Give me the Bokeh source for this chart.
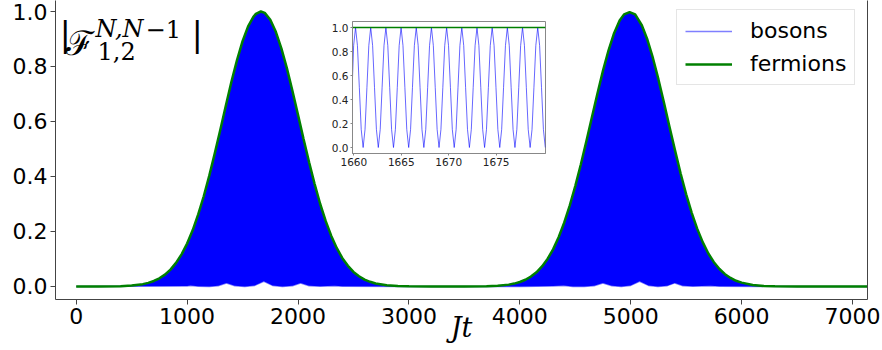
from bokeh.plotting import figure
from bokeh.models import Range1d, FixedTicker, PrintfTickFormatter, LinearAxis, Label, Legend
from bokeh.layouts import column
from bokeh.embed import file_html
from bokeh.resources import INLINE

# ---------------- data ----------------
# upper envelope (fermions) : time Jt and |F|
env_t = [0, 200, 400, 500, 600, 650, 700, 750, 800, 850, 900, 950, 1000, 1050, 1100, 1150,
         1200, 1250, 1300, 1350, 1400, 1450, 1500, 1550, 1600, 1620, 1665, 1700, 1750, 1800,
         1850, 1900, 1950, 2000, 2050, 2100, 2150, 2200, 2250, 2300, 2350, 2400, 2450, 2500,
         2550, 2600, 2650, 2700, 2800, 2900, 3000, 3200, 3500, 3700, 3800, 3900, 3950, 4000,
         4050, 4100, 4150, 4200, 4250, 4300, 4350, 4400, 4450, 4500, 4550, 4600, 4650, 4700,
         4750, 4800, 4850, 4900, 4940, 4990, 5040, 5100, 5150, 5200, 5250, 5300, 5350, 5400,
         5450, 5500, 5550, 5600, 5650, 5700, 5750, 5800, 5850, 5900, 5950, 6000, 6100, 6200,
         6300, 6500, 7000, 7300]
env_v = [0.0, 0.0, 0.0008, 0.0033, 0.0085, 0.0132, 0.020, 0.0297, 0.043, 0.0614, 0.086,
         0.1168, 0.156, 0.2042, 0.262, 0.3282, 0.403, 0.485, 0.571, 0.6591, 0.745, 0.8235,
         0.892, 0.946, 0.982, 0.9915, 1.0, 0.995, 0.970, 0.926, 0.866, 0.793, 0.711, 0.624,
         0.5365, 0.452, 0.3723, 0.300, 0.2375, 0.184, 0.1393, 0.103, 0.0751, 0.053, 0.0373,
         0.025, 0.017, 0.011, 0.0045, 0.0016, 0.0005, 0.0, 0.0, 0.0008, 0.0026, 0.0068,
         0.0106, 0.0163, 0.0244, 0.036, 0.0516, 0.073, 0.1002, 0.135, 0.179, 0.232, 0.2938,
         0.365, 0.4434, 0.528, 0.6153, 0.702, 0.785, 0.859, 0.921, 0.967, 0.9896, 0.998,
         0.9896, 0.950, 0.898, 0.831, 0.753, 0.668, 0.580, 0.494, 0.411, 0.335, 0.2678,
         0.2095, 0.1604, 0.120, 0.0884, 0.0635, 0.0448, 0.031, 0.0208, 0.014, 0.0057, 0.002,
         0.0007, 0.0, 0.0, 0.0]

# lower envelope of the boson oscillation (scalloped bottom of the blue fill)
low_t = [0, 1000, 1030, 1100, 1200, 1280, 1355, 1430, 1520, 1610, 1692, 1770, 1860, 1950,
         2023, 2100, 2200, 2330, 2400, 3000, 4000, 4300, 4395, 4480, 4580, 4670, 4749,
         4830, 4915, 5000, 5080, 5160, 5245, 5330, 5398, 5470, 5560, 5720, 5800, 6500, 7300]
low_v = [0.0, 0.002, 0.004, 0.001, 0.0, 0.003, 0.013, 0.003, 0.0, 0.004, 0.019, 0.004, 0.0,
         0.003, 0.013, 0.003, 0.001, 0.003, 0.001, 0.0, 0.0, 0.002, 0.004, 0.0, 0.0, 0.003,
         0.013, 0.003, 0.0, 0.004, 0.019, 0.004, 0.0, 0.003, 0.013, 0.003, 0.001, 0.003,
         0.001, 0.0, 0.0]

# inset: boson oscillation around Jt = 1660 ... 1680
inset_t = [1659.86, 1659.98,
           1660.18, 1660.38, 1660.58, 1660.78, 1660.98, 1661.18, 1661.38, 1661.58,
           1661.78, 1661.98, 1662.18, 1662.38, 1662.58, 1662.78, 1662.98, 1663.18,
           1663.38, 1663.58, 1663.78, 1663.98, 1664.18, 1664.38, 1664.58, 1664.78,
           1664.98, 1665.18, 1665.38, 1665.58, 1665.78, 1665.98, 1666.18, 1666.38,
           1666.58, 1666.78, 1666.98, 1667.18, 1667.38, 1667.58, 1667.78, 1667.98,
           1668.18, 1668.38, 1668.58, 1668.78, 1668.98, 1669.18, 1669.38, 1669.58,
           1669.78, 1669.98, 1670.18, 1670.38, 1670.58, 1670.78, 1670.98, 1671.18,
           1671.38, 1671.58, 1671.78, 1671.98, 1672.18, 1672.38, 1672.58, 1672.78,
           1672.98, 1673.18, 1673.38, 1673.58, 1673.78, 1673.98, 1674.18, 1674.38,
           1674.58, 1674.78, 1674.98, 1675.18, 1675.38, 1675.58, 1675.78, 1675.98,
           1676.18, 1676.38, 1676.58, 1676.78, 1676.98, 1677.18, 1677.38, 1677.58,
           1677.78, 1677.98, 1678.18, 1678.38, 1678.58, 1678.78, 1678.98, 1679.18,
           1679.38, 1679.58, 1679.78, 1679.98, 1680.18]
inset_v = [0.58, 0.85,
           1.0, 0.85, 0.5, 0.15, 0.0, 0.15, 0.5, 0.85,
           1.0, 0.85, 0.5, 0.15, 0.0, 0.15, 0.5, 0.85,
           1.0, 0.85, 0.5, 0.15, 0.0, 0.15, 0.5, 0.85,
           1.0, 0.85, 0.5, 0.15, 0.0, 0.15, 0.5, 0.85,
           1.0, 0.85, 0.5, 0.15, 0.0, 0.15, 0.5, 0.85,
           1.0, 0.85, 0.5, 0.15, 0.0, 0.15, 0.5, 0.85,
           1.0, 0.85, 0.5, 0.15, 0.0, 0.15, 0.5, 0.85,
           1.0, 0.85, 0.5, 0.15, 0.0, 0.15, 0.5, 0.85,
           1.0, 0.85, 0.5, 0.15, 0.0, 0.15, 0.5, 0.85,
           1.0, 0.85, 0.5, 0.15, 0.0, 0.15, 0.5, 0.85,
           1.0, 0.85, 0.5, 0.15, 0.0, 0.15, 0.5, 0.85,
           1.0, 0.85, 0.5, 0.15, 0.0, 0.15, 0.5, 0.85,
           1.0, 0.85, 0.5, 0.15, 0.0]
inset_ft = [1659.86, 1680.2]
inset_fv = [1.0, 1.0]

x_ticks = [0, 1000, 2000, 3000, 4000, 5000, 6000, 7000]
y_ticks = [0.0, 0.2, 0.4, 0.6, 0.8, 1.0]
inset_x_ticks = [1660, 1665, 1670, 1675]

FONT = "DejaVu Sans"
SPINE = "#444444"

# ---------------- main figure ----------------
p = figure(width=882, height=350, x_range=Range1d(-186.7, 7135), y_range=Range1d(-0.0473, 1.04),
           output_backend="svg", toolbar_location=None,
           min_border_left=55, min_border_right=15, min_border_top=0, min_border_bottom=51)
p.outline_line_color = None
p.xgrid.visible = False
p.ygrid.visible = False
p.background_fill_color = "white"
p.border_fill_color = "white"

for ax in (p.xaxis[0], p.yaxis[0]):
    ax.axis_line_color = SPINE
    ax.major_tick_line_color = SPINE
    ax.major_tick_in = 0
    ax.major_tick_out = 5
    ax.minor_tick_line_color = None
    ax.major_label_text_font = FONT
    ax.major_label_text_font_size = "22px"
    ax.major_label_text_color = "black"
    ax.major_label_standoff = 3
p.xaxis.ticker = FixedTicker(ticks=x_ticks)
p.yaxis.ticker = FixedTicker(ticks=y_ticks)
p.yaxis.formatter = PrintfTickFormatter(format="%.1f")

p.xaxis.axis_label = "Jt"
p.xaxis.axis_label_text_font = "DejaVu Serif"
p.xaxis.axis_label_text_font_style = "italic"
p.xaxis.axis_label_text_font_size = "27px"
p.xaxis.axis_label_text_color = "black"
p.xaxis.axis_label_standoff = -15

right = LinearAxis(ticker=FixedTicker(ticks=[]), axis_line_color=SPINE,
                   major_tick_line_color=None, minor_tick_line_color=None,
                   major_label_text_font_size="0px")
p.add_layout(right, "right")

# blue filled region of the fast boson oscillation
p.patch(env_t + low_t[::-1], env_v + low_v[::-1], fill_color="#0000ff", line_color=None)
r_b = p.line(low_t, low_v, line_color="blue", line_alpha=0.5, line_width=1.5)
r_f = p.line(env_t, env_v, line_color="green", line_width=2.5)

legend = Legend(items=[("bosons", [r_b]), ("fermions", [r_f])], location=(621, 214))
legend.label_text_font = FONT
legend.label_text_font_size = "22px"
legend.label_text_color = "black"
legend.glyph_width = 47
legend.label_standoff = 18
legend.padding = 8
legend.spacing = 8
legend.border_line_color = "#cccccc"
legend.background_fill_alpha = 0.85
p.add_layout(legend)

# annotation |F^{N,N-1}_{1,2}|
def lab(x, y, text, size, style="normal", font="DejaVu Serif", baseline="alphabetic", align="left"):
    p.add_layout(Label(x=x, y=y, text=text, text_font=font, text_font_size=size,
                       text_font_style=style, text_baseline=baseline, text_align=align,
                       text_color="black"))

lab(-150, 0.919, "|", "34px", baseline="middle")
lab(-96.5, 0.887, "\u2131", "34px")
lab(174, 0.938, "N,N", "24px", style="italic")
lab(625, 0.938, "\u22121", "24px")
lab(192, 0.858, "1,2", "24px")
lab(1040, 0.919, "|", "34px", baseline="middle")

# ---------------- inset ----------------
inset = figure(width=263, height=154, x_range=Range1d(1659.86, 1680.2), y_range=Range1d(-0.05, 1.05),
               output_backend="svg", toolbar_location=None,
               min_border_left=55, min_border_right=15, min_border_top=4, min_border_bottom=18)
inset.outline_line_color = "#888888"
inset.xgrid.visible = False
inset.ygrid.visible = False
inset.background_fill_alpha = 0.0
inset.border_fill_alpha = 0.0
for ax in (inset.xaxis[0], inset.yaxis[0]):
    ax.axis_line_color = "#888888"
    ax.major_tick_line_color = "#888888"
    ax.major_tick_in = 0
    ax.major_tick_out = 2
    ax.minor_tick_line_color = None
    ax.major_label_text_font = FONT
    ax.major_label_text_font_size = "10.5px"
    ax.major_label_text_color = "#222222"
    ax.major_label_standoff = 2
inset.xaxis.ticker = FixedTicker(ticks=inset_x_ticks)
inset.yaxis.ticker = FixedTicker(ticks=y_ticks)
inset.yaxis.formatter = PrintfTickFormatter(format="%.1f")
inset.line(inset_t, inset_v, line_color="blue", line_alpha=0.6, line_width=1)
inset.line(inset_ft, inset_fv, line_color="green", line_width=1.5)
inset.styles = {"position": "absolute", "left": "297px", "top": "17px"}

layout = column(p, inset, styles={"position": "relative"})

open("out.html", "w").write(file_html(layout, INLINE))
